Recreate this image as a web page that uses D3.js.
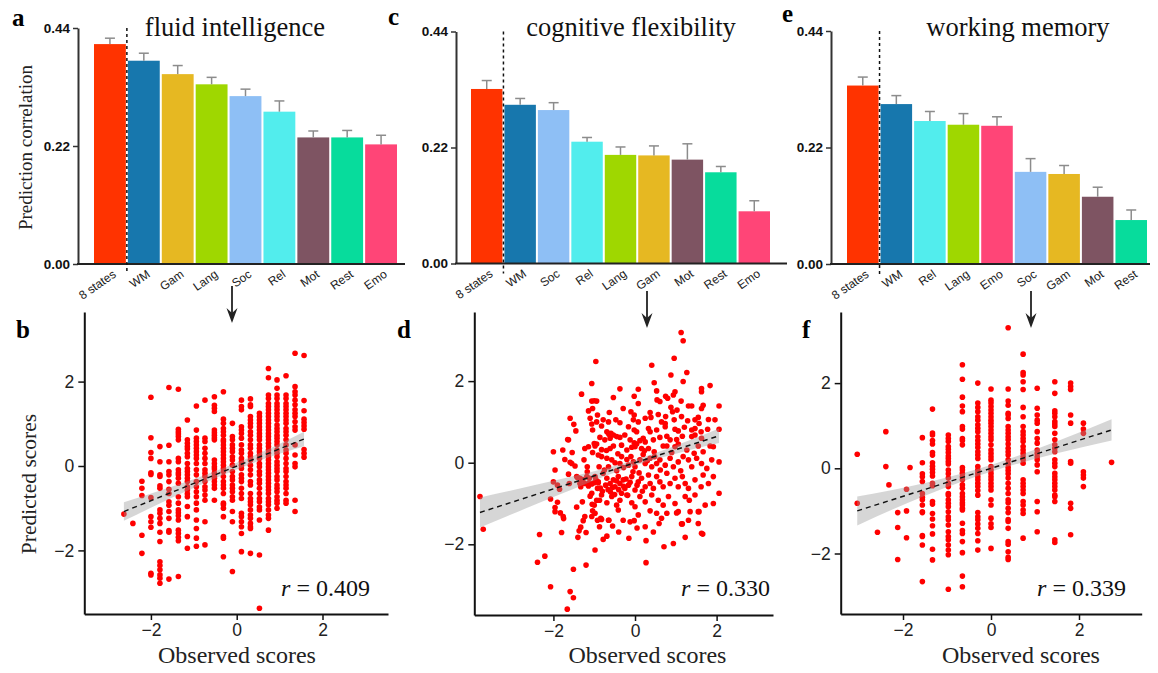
<!DOCTYPE html>
<html>
<head>
<meta charset="utf-8">
<script src="https://cdn.jsdelivr.net/npm/d3@7"></script>
<style>
body { margin: 0; background: #fff; }
</style>
</head>
<body>
<div id="chart-area"></div>
<script>
// bar chart values (prediction correlation, bar height + error bar length)
var faCats = ["8 states", "WM", "Gam", "Lang", "Soc", "Rel", "Mot", "Rest", "Emo"];
var faVals = [0.410, 0.379, 0.354, 0.335, 0.313, 0.284, 0.236, 0.236, 0.223];
var faErr  = [0.011, 0.014, 0.016, 0.013, 0.013, 0.020, 0.012, 0.013, 0.017];

var cfCats = ["8 states", "WM", "Soc", "Rel", "Lang", "Gam", "Mot", "Rest", "Emo"];
var cfVals = [0.331, 0.301, 0.291, 0.231, 0.206, 0.205, 0.197, 0.173, 0.099];
var cfErr  = [0.016, 0.012, 0.014, 0.008, 0.015, 0.018, 0.030, 0.011, 0.020];

var wmCats = ["8 states", "WM", "Rel", "Lang", "Emo", "Soc", "Gam", "Mot", "Rest"];
var wmVals = [0.337, 0.302, 0.270, 0.263, 0.261, 0.174, 0.170, 0.127, 0.083];
var wmErr  = [0.016, 0.016, 0.018, 0.021, 0.017, 0.025, 0.016, 0.018, 0.019];

var barTicks = [0, 0.22, 0.44];
var scatterTicks = [-2, 0, 2];

// scatter b: observed score columns -> predicted scores
var bCols = [
 [-2.63, [-1.14]],
 [-2.42, [-1.36]],
 [-2.21, [-0.36, -0.53, -0.70, -1.64, -2.07]],
 [-2.00, [1.63, 0.67, 0.32, 0.18, -0.16, -0.20, -0.75, -1.20, -1.32, -1.45, -2.54, -2.58]],
 [-1.79, [0.46, 0.10, -0.21, -0.25, -0.47, -0.53, -1.04, -1.12, -1.24, -1.36, -1.57, -1.79, -2.27, -2.36, -2.46, -2.58, -2.66, -2.78]],
 [-1.58, [1.86, 0.49, 0.10, -0.13, -0.21, -0.37, -0.55, -0.65, -0.85, -0.93, -1.08, -1.24, -1.53, -1.57, -2.68]],
 [-1.36, [1.82, 0.87, 0.81, 0.76, 0.70, 0.62, 0.18, 0.10, -0.09, -0.16, -0.21, -0.29, -0.41, -0.73, -0.88, -1.04, -1.11, -1.18, -1.28, -1.52, -1.60, -1.69, -1.77, -2.62]],
 [-1.15, [1.09, 0.62, 0.54, 0.46, 0.40, 0.30, 0.22, 0.06, -0.06, -0.13, -0.21, -0.29, -0.37, -0.49, -0.57, -0.66, -0.73, -0.96, -1.20, -1.67, -1.95]],
 [-0.94, [1.42, 0.85, 0.66, 0.58, 0.50, 0.42, 0.34, 0.26, 0.18, 0.06, -0.09, -0.21, -0.37, -0.49, -0.61, -0.73, -0.88, -1.04, -1.28, -1.48, -1.71, -1.90]],
 [-0.74, [1.56, 0.66, 0.58, 0.42, 0.30, 0.18, 0.06, -0.09, -0.17, -0.25, -0.37, -0.49, -0.57, -0.69, -0.81, -1.32, -1.87]],
 [-0.52, [1.64, 1.44, 1.37, 1.29, 0.85, 0.79, 0.73, 0.67, 0.62, 0.14, 0.06, -0.02, -0.07, -0.17, -0.25, -0.29, -0.37, -0.45, -0.53, -0.81]],
 [-0.31, [1.76, 1.11, 1.01, 0.89, 0.81, 0.73, 0.62, 0.58, 0.50, 0.42, 0.34, 0.26, 0.18, 0.10, 0.02, -0.06, -0.13, -0.25, -0.37, -0.45, -0.53, -0.65, -0.88, -0.92, -1.00, -1.20, -1.67, -1.71, -2.15]],
 [-0.10, [1.01, 0.70, 0.62, 0.50, 0.42, 0.34, 0.22, 0.14, 0.02, -0.13, -0.25, -0.33, -0.45, -0.53, -0.61, -0.73, -0.81, -1.08, -1.32, -2.50]],
 [0.11, [1.56, 1.41, 1.33, 0.93, 0.85, 0.77, 0.66, 0.50, 0.38, 0.30, 0.18, 0.10, 0.02, -0.06, -0.21, -0.29, -0.37, -0.53, -0.65, -0.77, -1.12, -1.20, -1.32, -1.44, -1.60, -2.03]],
 [0.32, [1.59, 1.45, 1.41, 1.17, 1.09, 1.01, 0.93, 0.81, 0.73, 0.62, 0.50, 0.42, 0.30, 0.22, 0.14, 0.02, -0.09, -0.21, -0.37, -0.45, -0.65, -0.77, -0.85, -0.92, -1.04, -1.16, -1.24, -1.36, -1.44, -1.48, -2.07]],
 [0.53, [1.25, 1.17, 1.09, 1.01, 0.93, 0.85, 0.77, 0.70, 0.62, 0.50, 0.42, 0.34, 0.26, 0.18, 0.06, -0.02, -0.13, -0.21, -0.33, -0.41, -0.53, -0.65, -0.77, -0.85, -0.97, -1.04, -1.28, -2.11, -3.37]],
 [0.74, [2.31, 2.09, 1.68, 1.60, 1.48, 1.41, 1.33, 1.25, 1.17, 1.09, 1.01, 0.93, 0.85, 0.77, 0.70, 0.62, 0.54, 0.46, 0.38, 0.30, 0.22, 0.14, 0.06, -0.02, -0.09, -0.17, -0.25, -0.33, -0.41, -0.49, -0.57, -0.65, -0.77, -0.85, -0.92, -1.04, -1.16, -1.24, -1.52]],
 [0.94, [2.04, 1.84, 1.68, 1.60, 1.48, 1.41, 1.33, 1.25, 1.17, 1.09, 0.97, 0.89, 0.81, 0.73, 0.66, 0.58, 0.50, 0.38, 0.30, 0.22, 0.10, 0.02, -0.06, -0.13, -0.25, -0.33, -0.45, -0.53, -0.61, -0.73, -0.81, -0.88, -1.00]],
 [1.15, [2.14, 1.68, 1.60, 1.48, 1.41, 1.33, 1.25, 1.17, 1.09, 1.01, 0.89, 0.81, 0.73, 0.62, 0.50, 0.38, 0.30, 0.18, 0.06, -0.06, -0.13, -0.25, -0.37, -0.45, -0.53, -0.65, -0.81, -0.88]],
 [1.36, [2.67, 1.88, 1.76, 1.68, 1.56, 1.45, 1.33, 1.25, 1.17, 1.05, 0.93, 0.85, 0.50, 0.26, 0.06, -0.02, -0.81, -1.08]],
 [1.57, [2.62, 1.55, 1.31, 1.11, 1.03, 0.95, 0.87, 0.39, 0.30, 0.21]]
];

// scatter d: [observed, predicted]
var dPoints = [
 [-3.80,-0.83],[-3.72,-1.63],[-2.34,-1.76],[-2.39,-2.44],[-2.21,-2.29],[-2.07,-3.04],[-2.00,0.27],[-1.96,-0.18],
 [-2.07,-0.89],[-1.96,-1.10],[-1.96,-1.20],[-1.90,-0.97],[-1.83,-1.23],[-1.76,-1.32],[-1.75,-1.37],[-1.90,-0.55],
 [-1.85,-0.65],[-1.80,-1.71],[-1.77,0.31],[-1.72,0.08],[-1.63,0.56],[-1.59,1.09],[-1.63,-0.28],[-1.59,0.01],
 [-1.55,-0.02],[-1.47,-0.08],[-1.54,0.25],[-1.50,0.94],[-1.45,0.78],[-1.59,-3.16],[-1.51,-3.31],[-1.66,-3.59],
 [-1.51,-2.61],[-1.65,0.57],[-1.43,-1.09],[-1.40,-1.83],[-1.37,-1.67],[-1.33,-1.58],[-1.29,-0.96],[-1.27,-1.42],
 [-1.23,-1.32],[-1.20,-2.51],[-1.20,-1.71],[-1.31,1.68],[-1.25,0.07],[-1.23,0.35],[-1.14,0.39],[-1.14,1.27],
 [-1.10,1.09],[-1.06,0.95],[-1.06,1.94],[-1.06,1.51],[-1.00,1.52],[-0.94,1.51],[-1.04,1.33],[-1.04,0.80],
 [-1.00,0.47],[-0.98,0.41],[-1.04,0.25],[-0.98,-2.14],[-0.96,2.48],[-0.94,1.00],[-0.92,1.17],[-1.17,-0.10],
 [-1.17,-0.22],[-1.12,-0.38],[-1.41,-0.36],[-1.35,-0.38],[-1.33,-0.59],[-1.14,-0.57],[-1.10,-0.82],[-1.06,-1.32],
 [-1.05,-1.02],[-1.06,-0.75],[-2.00,-0.47],[-1.61,-0.51],[-1.43,-0.34],[-1.35,-0.51],[-1.28,-0.41],[-1.23,-0.51],
 [-1.18,-0.34],[-1.12,-0.49],[-1.06,-0.52],[-1.00,-0.49],[-0.96,-0.41],[-0.90,-0.49],[-0.92,-0.63],[-0.87,-0.92],
 [-1.00,-1.04],[-0.98,-1.24],[-0.92,-1.41],[-0.87,-1.57],[-0.78,-1.88],[-0.69,-1.80],[-0.65,-1.41],[-0.84,-1.36],
 [-1.04,-1.18],
 [1.13,3.19],[1.18,2.99],[0.96,2.56],[0.41,2.39],[0.88,2.15],[1.27,2.21],[1.18,1.99],[0.47,1.96],[1.84,1.89],
 [1.63,1.82],[1.63,1.74],[-0.37,1.81],[0.08,1.80],[0.53,1.76],[0.98,1.74],[0.94,1.66],[-0.02,1.63],[-0.53,1.60],
 [0.75,1.63],[0.80,1.58],[0.08,1.45],[0.54,1.54],[0.61,1.50],[1.13,1.51],[1.31,1.39],[1.39,1.39],[1.67,1.41],
 [1.63,1.33],[2.06,1.39],[-0.29,1.33],[0.88,1.36],[0.92,1.25],[1.03,1.29],[-0.63,1.23],[-0.10,1.25],[0.37,1.23],
 [0.57,1.18],[0.75,1.13],[1.14,1.13],[1.55,1.11],[-0.02,1.17],[0.25,1.09],[0.39,1.11],[-0.04,1.05],[-0.78,1.05],
 [-0.65,1.00],[-0.47,1.05],[-0.37,0.98],[0.08,1.00],[0.65,1.00],[0.74,0.96],[0.96,1.05],[1.29,1.03],[1.47,1.05],
 [1.57,0.96],[1.80,1.06],[1.96,1.05],[-0.82,0.90],[-0.69,0.76],[-0.64,0.70],[-0.59,0.72],[-0.53,0.68],[-0.16,0.88],
 [-0.02,0.80],[0.04,0.76],[0.33,0.84],[0.37,0.76],[0.53,0.80],[0.74,0.88],[0.98,0.82],[1.06,0.78],[1.21,0.87],
 [1.39,0.80],[1.47,0.84],[1.62,0.76],[1.78,0.82],[2.06,0.82],[-0.86,0.62],[-0.94,0.46],[-0.74,0.56],[-0.61,0.60],
 [-0.45,0.64],[-0.37,0.62],[-0.25,0.68],[-0.12,0.56],[-0.02,0.49],[0.04,0.46],[0.12,0.54],[0.20,0.60],[0.25,0.51],
 [0.45,0.56],[0.61,0.62],[0.78,0.65],[0.86,0.56],[1.02,0.57],[1.16,0.65],[1.39,0.64],[1.47,0.68],[1.63,0.60],
 [1.92,0.39],[-0.61,0.35],[-0.53,0.41],[-0.33,0.43],[-0.20,0.31],[-0.08,0.38],[0.00,0.39],[0.16,0.35],[0.23,0.29],
 [0.33,0.35],[0.47,0.27],[0.69,0.41],[0.78,0.41],[0.98,0.39],[1.06,0.46],[1.27,0.31],[1.45,0.23],[1.55,0.41],
 [1.67,0.27],[1.84,0.41],
 [-0.90,0.19],[-0.82,0.15],[-0.69,0.11],[-0.57,0.07],[-0.49,0.00],[-0.37,-0.02],[-0.33,0.15],[-0.20,0.08],
 [-0.16,-0.06],[-0.04,0.02],[0.00,-0.10],[0.12,0.07],[0.25,-0.02],[0.37,0.11],[0.41,-0.10],[0.53,-0.02],
 [0.61,0.07],[0.74,-0.06],[0.86,0.11],[0.94,-0.10],[1.06,0.02],[1.18,0.15],[1.31,0.07],[1.39,-0.10],[1.51,0.11],
 [1.63,-0.02],[1.76,-0.14],[1.88,0.07],[2.06,0.02],
 [-0.98,-0.34],[-0.90,-0.47],[-0.78,-0.26],[-0.69,-0.38],[-0.61,-0.51],[-0.53,-0.42],[-0.49,-0.59],[-0.41,-0.34],
 [-0.37,-0.51],[-0.29,-0.42],[-0.25,-0.63],[-0.16,-0.55],[-0.08,-0.34],[0.00,-0.67],[0.08,-0.47],[0.16,-0.38],
 [0.25,-0.59],[0.33,-0.30],[0.37,-0.51],[0.45,-0.63],[0.53,-0.34],[0.61,-0.47],[0.69,-0.59],[0.78,-0.26],
 [0.86,-0.51],[0.98,-0.38],[1.06,-0.59],[1.16,-0.34],[1.23,-0.51],[1.31,-0.63],[1.47,-0.42],[1.62,-0.59],
 [1.67,-0.30],[1.80,-0.51],[1.92,-0.34],
 [-0.85,-0.62],[-0.80,-0.70],[-0.72,-0.55],[-0.66,-0.66],[-0.60,-0.72],[-0.55,-0.60],[-0.50,-0.78],[-0.45,-0.45],
 [-0.40,-0.66],[-0.33,-0.75],[-0.28,-0.58],[-0.22,-0.40],[-0.18,-0.80],[-0.12,-0.48],[-0.05,-0.22],[0.05,-0.55],
 [0.10,-0.25],[0.18,-0.70],[-0.75,-0.18],[-0.65,-0.10],[-0.45,-0.20],[-0.28,-0.12],[-0.10,0.15],[0.20,0.20],
 [0.30,0.05],[-0.70,0.30],[-0.42,0.22],[0.48,0.15],[0.62,-0.18],[0.90,0.25],[1.12,-0.20],[-0.88,-0.10],[-0.82,0.32],
 [-0.94,-0.92],[-0.82,-0.79],[-0.69,-0.98],[-0.57,-0.83],[-0.45,-1.04],[-0.37,-0.92],[-0.20,-0.79],[-0.08,-0.98],
 [0.00,-1.08],[0.12,-0.83],[0.25,-0.96],[0.41,-0.79],[0.57,-0.92],[0.69,-1.04],[0.82,-0.83],[0.98,-1.00],
 [1.06,-1.20],[1.23,-0.83],[1.33,-0.92],[1.47,-0.79],[1.55,-1.20],[1.72,-1.04],[1.92,-1.00],
 [-0.82,-1.39],[-0.64,-1.41],[-0.41,-1.16],[-0.29,-1.41],[-0.12,-1.45],[-0.02,-1.42],[0.08,-1.28],[0.25,-1.57],
 [0.37,-1.18],[0.53,-1.24],[0.59,-1.49],[0.65,-1.36],[0.78,-1.24],[1.02,-1.23],[1.16,-1.50],[1.31,-1.41],
 [1.57,-1.20],[1.63,-1.73],[2.06,-0.75],
 [0.27,-2.45],[0.27,-1.91],[0.71,-2.06],[0.94,-1.98],[1.23,-1.83],[1.66,-1.75],[1.55,-1.49],[1.14,-1.50],
 [-0.40,-1.70],[-0.15,-1.85],[0.05,-1.60],[0.45,-1.70],[-0.55,-1.55],[1.35,-1.20]
];

// scatter f: observed score columns -> predicted scores
var fCols = [
 [-3.04, [0.33, -0.82]],
 [-2.58, [-1.50]],
 [-2.39, [0.86, 0.04]],
 [-2.32, [-0.39]],
 [-2.12, [-1.04, -1.39, -2.14]],
 [-1.92, [-0.49, -1.00, -1.63]],
 [-1.84, [0.02]],
 [-1.56, [0.72, 0.13, -0.13, -0.20, -0.31, -0.59, -0.68, -0.74, -0.86, -1.02, -1.04, -1.58, -1.60, -1.80, -2.66]],
 [-1.33, [1.39, 0.83, 0.78, 0.65, 0.57, 0.37, 0.31, 0.13, 0.05, -0.02, -0.10, -0.18, -0.35, -0.41, -0.78, -0.84, -1.06, -1.19, -1.35, -1.54, -1.90, -2.15]],
 [-0.97, [0.78, 0.70, 0.63, 0.51, 0.45, 0.37, 0.29, 0.23, 0.16, 0.10, -0.04, -0.13, -0.23, -0.35, -0.43, -0.59, -0.63, -0.74, -0.82, -0.90, -1.02, -1.14, -1.21, -1.33, -1.49, -1.60, -1.68, -1.80, -1.92, -2.03, -2.84]],
 [-0.65, [2.43, 2.09, 1.67, 1.46, 1.33, 0.98, 0.92, 0.70, 0.65, 0.55, 0.02, -0.04, -0.12, -0.20, -0.27, -0.39, -0.47, -0.59, -0.67, -0.74, -0.81, -0.86, -0.94, -0.98, -1.29, -1.46, -1.53, -1.72, -1.98, -2.53, -2.78]],
 [-0.30, [2.00, 1.53, 1.43, 1.33, 1.21, 1.13, 1.02, 0.94, 0.86, 0.74, 0.65, 0.57, 0.49, 0.39, 0.31, 0.23, 0.04, -0.04, -0.12, -0.20, -0.27, -0.35, -0.43, -0.52, -0.63, -1.04, -1.14, -1.21, -1.31, -1.41, -1.53, -1.70, -1.92]],
 [0.00, [1.86, 1.60, 1.53, 1.45, 1.37, 1.29, 1.21, 1.13, 1.06, 0.98, 0.90, 0.82, 0.74, 0.67, 0.55, 0.43, 0.35, 0.27, 0.20, 0.04, -0.04, -0.12, -0.20, -0.27, -0.35, -0.43, -0.51, -0.74, -0.86, -1.17, -1.30, -1.39, -1.88]],
 [0.39, [3.30, 1.86, 1.58, 1.48, 1.29, 1.25, 1.17, 0.98, 0.90, 0.82, 0.74, 0.67, 0.57, 0.47, 0.39, 0.31, 0.20, 0.10, 0.02, -0.05, -0.13, -0.23, -0.35, -0.47, -0.59, -0.74, -0.81, -0.94, -1.04, -1.20, -1.25, -1.41, -1.72, -1.78, -1.96, -2.09, -2.14]],
 [0.73, [2.68, 2.25, 2.19, 2.03, 1.85, 1.43, 1.21, 0.98, 0.86, 0.78, 0.70, 0.63, 0.51, 0.43, 0.35, 0.27, 0.20, 0.12, -0.27, -0.35, -0.43, -0.51, -0.59, -0.78, -0.86, -0.98, -1.06, -1.64]],
 [1.05, [1.88, 1.41, 1.25, 1.13, 1.06, 0.86, 0.70, 0.59, 0.43, 0.35, 0.27, 0.20, 0.08, -0.08, -0.78, -1.02, -1.49]],
 [1.45, [2.03, 1.76, 1.35, 1.29, 1.21, 1.10, 1.04, 0.98, 0.82, 0.67, 0.55, 0.47, 0.39, 0.20, 0.12, 0.04, -0.12, -0.20, -0.27, -0.35, -0.43, -0.51, -0.63, -0.67, -0.78, -1.68, -1.74]],
 [1.81, [2.00, 1.92, 1.85, 1.25, 1.06, 0.16, 0.12, -0.82, -0.94, -1.56]],
 [2.10, [1.06, 0.92, 0.82, -0.08, -0.16, -0.23, -0.43]],
 [2.74, [0.14]]
];

// fitted lines (end points) and confidence band half widths [x, half]
var bFit = [[-2.63, -1.08], [1.57, 0.64]];
var bBand = [[-2.63, 0.22], [-1.5, 0.13], [0, 0.08], [0.8, 0.10], [1.57, 0.17]];
var dFit = [[-3.80, -1.22], [2.06, 0.66]];
var dBand = [[-3.80, 0.37], [-2.0, 0.20], [-0.1, 0.07], [1.0, 0.10], [2.06, 0.18]];
var fFit = [[-3.04, -1.00], [2.74, 0.90]];
var fBand = [[-3.04, 0.34], [-1.5, 0.15], [0.1, 0.08], [1.5, 0.14], [2.74, 0.25]];
var rValues = [0.409, 0.330, 0.339];

var barColor = {
	"8 states": "#ff3300", "WM": "#1777ad", "Gam": "#e6b822", "Lang": "#9fd700",
	"Soc": "#8ebff5", "Rel": "#52eded", "Mot": "#7e5462", "Rest": "#07dc9c", "Emo": "#ff4577"
};

var serif = "'Liberation Serif', 'Times New Roman', serif";
var sans = "'Liberation Sans', Arial, sans-serif";

var svg = d3.select("#chart-area")
	.append("svg")
		.attr("width", 1158)
		.attr("height", 673);

/********** bar panels **********/
var barPanels = [
	{cats: faCats, vals: faVals, err: faErr, axisX: 78, x0: 94, x1: 397, xEnd: 405, yTop: 28, yBot: 264,
	 title: "fluid intelligence", titleX: 235, letter: "a", letterX: 12, letterY: 26},
	{cats: cfCats, vals: cfVals, err: cfErr, axisX: 456, x0: 471, x1: 770, xEnd: 787, yTop: 31.5, yBot: 263.5,
	 title: "cognitive flexibility", titleX: 631, letter: "c", letterX: 388, letterY: 25},
	{cats: wmCats, vals: wmVals, err: wmErr, axisX: 831, x0: 847, x1: 1147, xEnd: 1150, yTop: 31, yBot: 264,
	 title: "working memory", titleX: 1018, letter: "e", letterX: 782, letterY: 22}
];

barPanels.forEach(function(p) {
	var g = svg.append("g");
	var x = d3.scaleBand().domain(p.cats).range([p.x0, p.x1]).paddingInner(0.06).paddingOuter(0);
	var y = d3.scaleLinear().domain([0, 0.44]).range([p.yBot, p.yTop]);
	var bw = x.bandwidth();

	g.selectAll(".bar").data(p.cats).enter().append("rect")
		.attr("x", function(d) { return x(d); })
		.attr("y", function(d, i) { return y(p.vals[i]); })
		.attr("width", bw)
		.attr("height", function(d, i) { return y(0) - y(p.vals[i]); })
		.attr("fill", function(d) { return barColor[d]; });

	//error bars (upper half only)
	var eb = g.selectAll(".err").data(p.cats).enter().append("g")
		.attr("stroke", "#8c8c8c").attr("stroke-width", 1.5);
	eb.append("line")
		.attr("x1", function(d) { return x(d) + bw / 2; })
		.attr("x2", function(d) { return x(d) + bw / 2; })
		.attr("y1", function(d, i) { return y(p.vals[i]); })
		.attr("y2", function(d, i) { return y(p.vals[i] + p.err[i]); });
	eb.append("line")
		.attr("x1", function(d) { return x(d) + bw / 2 - 5; })
		.attr("x2", function(d) { return x(d) + bw / 2 + 5; })
		.attr("y1", function(d, i) { return y(p.vals[i] + p.err[i]); })
		.attr("y2", function(d, i) { return y(p.vals[i] + p.err[i]); });

	//y axis
	var ya = g.append("g")
		.attr("transform", "translate(" + p.axisX + ",0)")
		.call(d3.axisLeft(y).tickValues(barTicks).tickFormat(d3.format(".2f")).tickSize(5).tickSizeOuter(0).tickPadding(3));
	ya.select(".domain").attr("stroke", "#333").attr("stroke-width", 2);
	ya.selectAll(".tick line").attr("stroke", "#333").attr("stroke-width", 1.5);
	ya.selectAll("text").attr("font-family", sans).attr("font-size", 13.5)
		.attr("font-weight", "bold").attr("fill", "#111");

	//x axis line
	g.append("line")
		.attr("x1", p.axisX - 1).attr("x2", p.xEnd)
		.attr("y1", p.yBot).attr("y2", p.yBot)
		.attr("stroke", "#222").attr("stroke-width", 2);

	//category labels
	g.selectAll(".cat").data(p.cats).enter().append("text")
		.attr("transform", function(d) {
			return "translate(" + (x(d) + bw / 2 + 7) + "," + (p.yBot + 12) + ") rotate(-35)";
		})
		.attr("text-anchor", "end")
		.attr("font-family", sans)
		.attr("font-size", 12)
		.attr("fill", "#222")
		.text(function(d) { return d; });

	//dashed separator after the 8 states bar
	var sepX = (x(p.cats[0]) + bw + x(p.cats[1])) / 2;
	g.append("line")
		.attr("x1", sepX).attr("x2", sepX)
		.attr("y1", p.yTop).attr("y2", p.yBot + 10)
		.attr("stroke", "#111").attr("stroke-width", 1.5)
		.attr("stroke-dasharray", "3,3");

	g.append("text")
		.attr("x", p.titleX).attr("y", 36)
		.attr("text-anchor", "middle")
		.attr("font-family", serif).attr("font-size", 26.5).attr("fill", "#111")
		.text(p.title);

	g.append("text")
		.attr("x", p.letterX).attr("y", p.letterY)
		.attr("font-family", serif).attr("font-size", 25).attr("font-weight", "bold")
		.text(p.letter);
});

//y axis title for bar charts
svg.append("text")
	.attr("transform", "translate(25,147.5) rotate(-90)")
	.attr("dy", "0.35em")
	.attr("text-anchor", "middle")
	.attr("font-family", serif).attr("font-size", 19).attr("fill", "#222")
	.text("Prediction correlation");

/********** scatter panels **********/
function flattenCols(cols) {
	var out = [];
	cols.forEach(function(c) { c[1].forEach(function(v) { out.push([c[0], v]); }); });
	return out;
}

var scatterPanels = [
	{pts: flattenCols(bCols), fit: bFit, band: bBand, r: rValues[0],
	 left: 84.3, right: 388, top: 312, bottom: 614, xDom: [-3.553, 3.527], yDom: [-3.507, 3.649],
	 letter: "b", letterX: 16, rX: 370, obsX: 237, arrowX: 232, arrowY0: 286, arrowTip: 323},
	{pts: dPoints, fit: dFit, band: dBand, r: rValues[1],
	 left: 474.3, right: 773, top: 312, bottom: 615, xDom: [-3.939, 3.382], yDom: [-3.733, 3.694],
	 letter: "d", letterX: 397, rX: 770, obsX: 647.5, arrowX: 647, arrowY0: 291, arrowTip: 328},
	{pts: flattenCols(fCols), fit: fFit, band: fBand, r: rValues[2],
	 left: 840.7, right: 1141.7, top: 312, bottom: 614, xDom: [-3.416, 3.425], yDom: [-3.420, 3.669],
	 letter: "f", letterX: 802, rX: 1126, obsX: 1021, arrowX: 1031, arrowY0: 291, arrowTip: 328}
];

scatterPanels.forEach(function(p) {
	var g = svg.append("g");
	var x = d3.scaleLinear().domain(p.xDom).range([p.left, p.right]);
	var y = d3.scaleLinear().domain(p.yDom).range([p.bottom, p.top]);

	//points
	g.selectAll(".pt").data(p.pts).enter().append("circle")
		.attr("cx", function(d) { return x(d[0]); })
		.attr("cy", function(d) { return y(d[1]); })
		.attr("r", 2.8)
		.attr("fill", "#ff0000");

	//confidence band and fitted line
	var fitY = d3.scaleLinear().domain([p.fit[0][0], p.fit[1][0]]).range([p.fit[0][1], p.fit[1][1]]);
	var area = d3.area()
		.x(function(d) { return x(d[0]); })
		.y0(function(d) { return y(fitY(d[0]) - d[1]); })
		.y1(function(d) { return y(fitY(d[0]) + d[1]); })
		.curve(d3.curveMonotoneX);
	g.append("path")
		.attr("d", area(p.band))
		.attr("fill", "#999")
		.attr("fill-opacity", 0.4);
	g.append("line")
		.attr("x1", x(p.fit[0][0])).attr("y1", y(p.fit[0][1]))
		.attr("x2", x(p.fit[1][0])).attr("y2", y(p.fit[1][1]))
		.attr("stroke", "#111").attr("stroke-width", 1.4)
		.attr("stroke-dasharray", "5,4");

	//axes
	var fmt = d3.format("d");
	var xa = g.append("g")
		.attr("transform", "translate(0," + p.bottom + ")")
		.call(d3.axisBottom(x).tickValues(scatterTicks).tickFormat(fmt).tickSize(6).tickSizeOuter(0).tickPadding(4));
	var ya = g.append("g")
		.attr("transform", "translate(" + p.left + ",0)")
		.call(d3.axisLeft(y).tickValues(scatterTicks).tickFormat(fmt).tickSize(6).tickSizeOuter(0).tickPadding(4));
	[xa, ya].forEach(function(a) {
		a.select(".domain").attr("stroke", "#111").attr("stroke-width", 2);
		a.selectAll(".tick line").attr("stroke", "#111").attr("stroke-width", 1.5);
		a.selectAll("text").attr("font-family", sans).attr("font-size", 17.5).attr("fill", "#222");
	});

	var rt = g.append("text")
		.attr("x", p.rX).attr("y", 596)
		.attr("text-anchor", "end")
		.attr("font-family", serif).attr("font-size", 24).attr("fill", "#111");
	rt.append("tspan").attr("font-style", "italic").text("r");
	rt.append("tspan").text(" = " + d3.format(".3f")(p.r));

	g.append("text")
		.attr("x", p.obsX).attr("y", 663)
		.attr("text-anchor", "middle")
		.attr("font-family", serif).attr("font-size", 24).attr("fill", "#222")
		.text("Observed scores");

	g.append("text")
		.attr("x", p.letterX).attr("y", 338)
		.attr("font-family", serif).attr("font-size", 25).attr("font-weight", "bold")
		.text(p.letter);

	//arrow pointing from the bar chart to the scatter
	g.append("line")
		.attr("x1", p.arrowX).attr("x2", p.arrowX)
		.attr("y1", p.arrowY0).attr("y2", p.arrowTip - 8)
		.attr("stroke", "#222").attr("stroke-width", 1.8);
	g.append("path")
		.attr("d", "M" + p.arrowX + "," + p.arrowTip +
			"L" + (p.arrowX - 5.5) + "," + (p.arrowTip - 15) +
			"L" + p.arrowX + "," + (p.arrowTip - 10) +
			"L" + (p.arrowX + 5.5) + "," + (p.arrowTip - 15) + "Z")
		.attr("fill", "#222");
});

svg.append("text")
	.attr("transform", "translate(28,484) rotate(-90)")
	.attr("dy", "0.35em")
	.attr("text-anchor", "middle")
	.attr("font-family", serif).attr("font-size", 21.5).attr("fill", "#222")
	.text("Predicted scores");
</script>
</body>
</html>
